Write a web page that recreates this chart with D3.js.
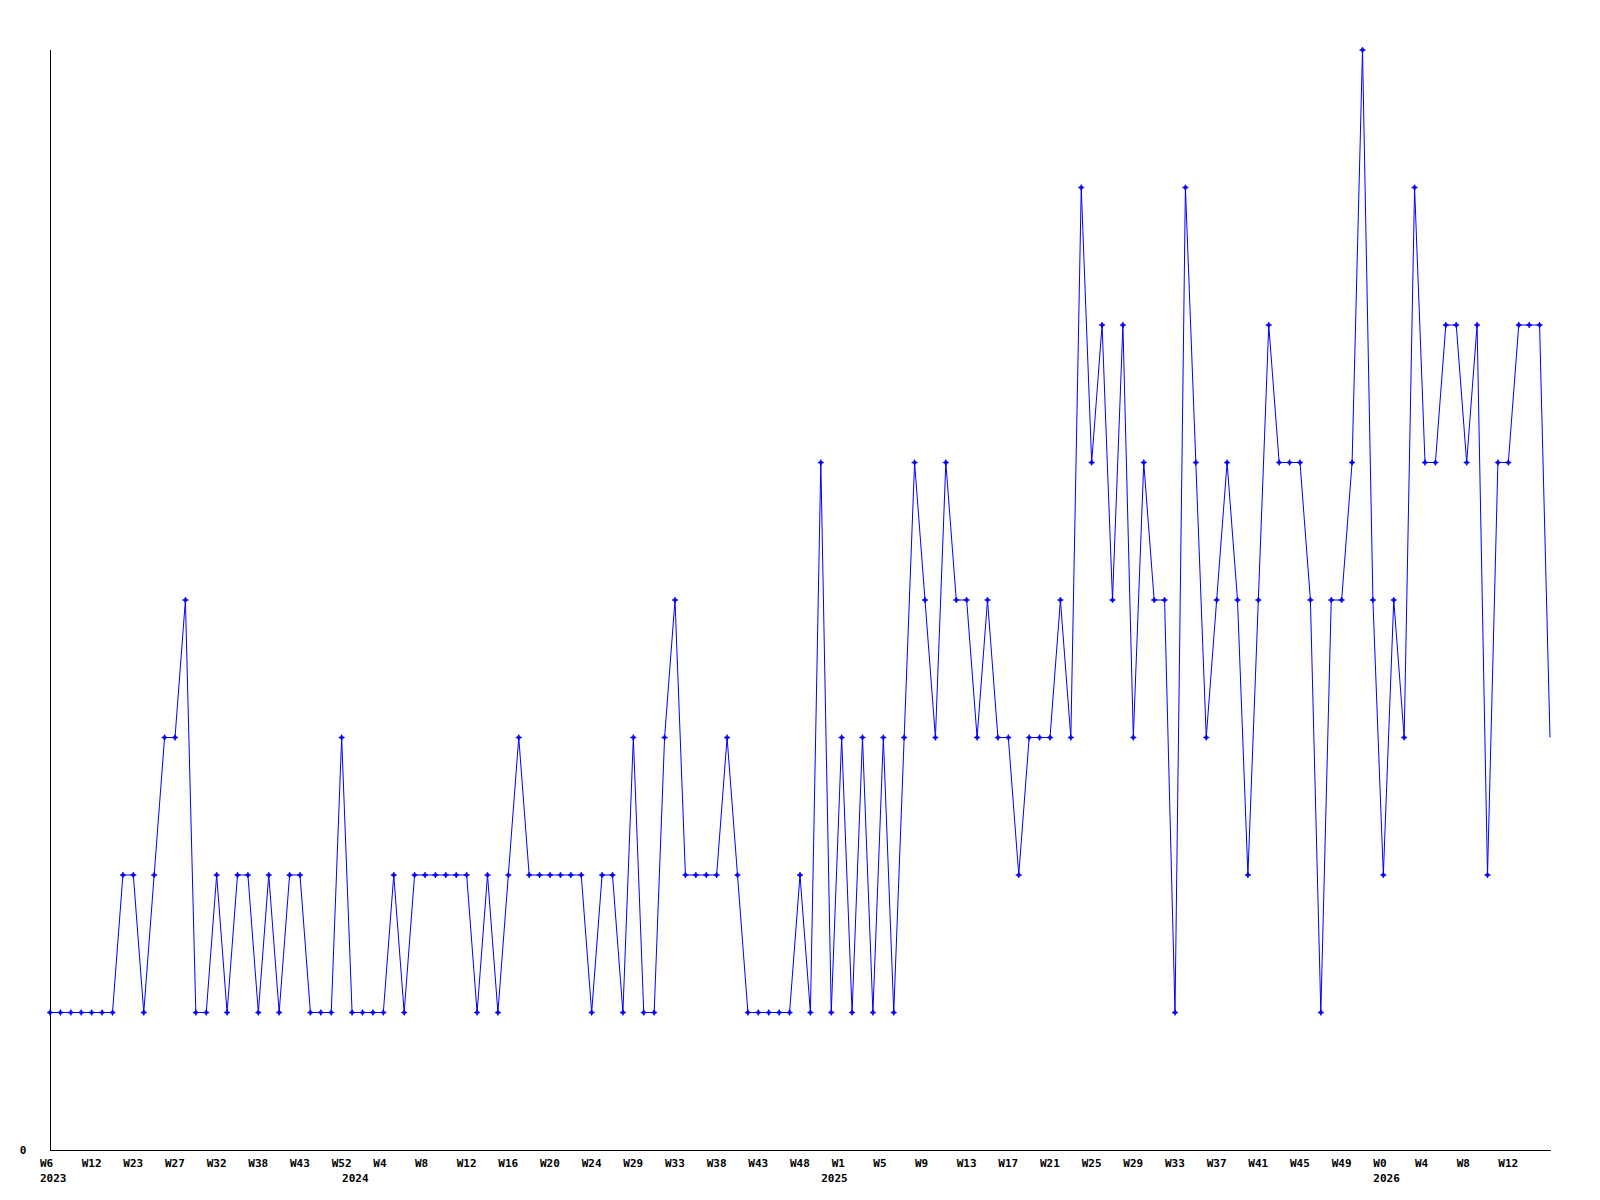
<!DOCTYPE html>
<html>
<head>
<meta charset="utf-8">
<script src="https://cdn.jsdelivr.net/npm/d3@7"></script>
<style>
  html, body { margin: 0; padding: 0; background: #fff; }
  svg { display: block; }
  text { font-family: "DejaVu Sans Mono", monospace; font-weight: bold; font-size: 11px; fill: #000; }
</style>
</head>
<body>
<svg id="chart" width="1600" height="1200"></svg>
<script>
// weekly counts, one per plotted point (145 points)
const values = [
  1,1,1,1,1,1,1,2,2,1,
  2,3,3,4,1,1,2,1,2,2,
  1,2,1,2,2,1,1,1,3,1,
  1,1,1,2,1,2,2,2,2,2,
  2,1,2,1,2,3,2,2,2,2,
  2,2,1,2,2,1,3,1,1,3,
  4,2,2,2,2,3,2,1,1,1,
  1,1,2,1,5,1,3,1,3,1,
  3,1,3,5,4,3,5,4,4,3,
  4,3,3,2,3,3,3,4,3,7,
  5,6,4,6,3,5,4,4,1,7,
  5,3,4,5,4,2,4,6,5,5,
  5,4,1,4,4,5,8,4,2,4,
  3,7,5,5,6,6,5,6,2,5,
  5,6,6,6,3
];
// x-axis tick labels (every 4th point)
const tickLabels = ["W6","W12","W23","W27","W32","W38","W43","W52","W4","W8","W12","W16",
  "W20","W24","W29","W33","W38","W43","W48","W1","W5","W9","W13","W17",
  "W21","W25","W29","W33","W37","W41","W45","W49","W0","W4","W8","W12"];
const tickStep = 4;
// year labels and the point index they sit under
const yearLabels = ["2023","2024","2025","2026"];
const yearPointIndex = [0, 29, 75, 128];
const yTicks = [0];

const svg = d3.select("#chart");
const mLeft = 50, mRight = 1550, mTop = 50, mBottom = 1150;

const x = d3.scaleLinear().domain([0, values.length - 1]).range([mLeft, mRight]);
const y = d3.scaleLinear().domain([0, d3.max(values)]).range([mBottom, mTop]);

// axes lines
svg.append("line").attr("x1", mLeft + 0.5).attr("x2", mLeft + 0.5).attr("y1", mTop).attr("y2", mBottom)
  .attr("stroke", "#000").attr("stroke-width", 1).attr("shape-rendering", "crispEdges");
svg.append("line").attr("x1", mLeft).attr("x2", mRight + 1).attr("y1", mBottom + 0.5).attr("y2", mBottom + 0.5)
  .attr("stroke", "#000").attr("stroke-width", 1).attr("shape-rendering", "crispEdges");

// y tick label
svg.selectAll("text.ytick").data(yTicks).enter().append("text")
  .attr("class", "ytick")
  .attr("x", 23).attr("y", d => y(d) + 4)
  .attr("text-anchor", "middle")
  .text(d => d);

// x tick labels
svg.selectAll("text.xtick").data(tickLabels).enter().append("text")
  .attr("class", "xtick")
  .attr("x", (d, i) => x(i * tickStep) - 10)
  .attr("y", mBottom + 17)
  .text(d => d);

svg.selectAll("text.year").data(yearLabels).enter().append("text")
  .attr("class", "year")
  .attr("x", (d, i) => x(yearPointIndex[i]) - 10)
  .attr("y", mBottom + 32)
  .text(d => d);

// series line
const line = d3.line().x((d, i) => x(i)).y(d => y(d));
svg.append("path").datum(values)
  .attr("d", line)
  .attr("fill", "none")
  .attr("stroke", "#0000ff")
  .attr("stroke-width", 1);

// point markers (last point has none)
const marker = "M0,-3L1,-1L3,0L1,1L0,3L-1,1L-3,0L-1,-1Z";
svg.selectAll("path.pt").data(values.slice(0, values.length - 1)).enter().append("path")
  .attr("class", "pt")
  .attr("transform", (d, i) => `translate(${x(i)},${y(d)})`)
  .attr("d", marker)
  .attr("fill", "#0000ff")
  .attr("stroke", "#0000ff")
  .attr("stroke-width", 0.6);
</script>
</body>
</html>
